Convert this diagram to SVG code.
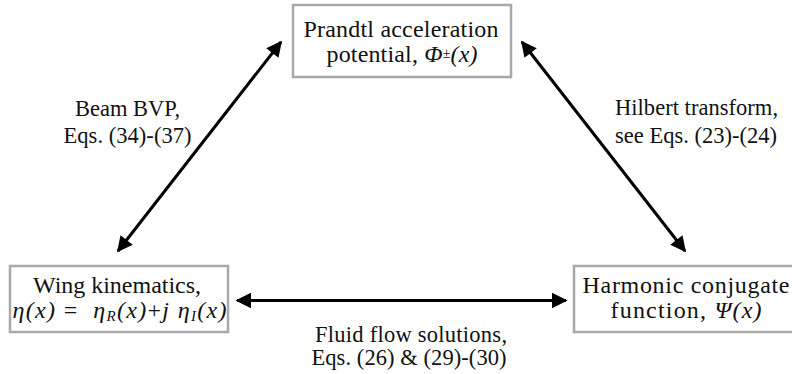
<svg xmlns="http://www.w3.org/2000/svg" width="792" height="374" viewBox="0 0 792 374">
  <defs>
    <style>
      .box { fill: #ffffff; stroke: #a9a9a9; stroke-width: 2.5; }
      .t { font-size: 24px; fill: #111; text-anchor: middle; }
      .lbl { font-size: 22.5px; fill: #111; text-anchor: middle; }
      .i { font-style: italic; }
      .sub { font-size: 15px; font-style: italic; }
      .link { stroke: #000; stroke-width: 3; fill: none; marker-start: url(#head); marker-end: url(#head); }
    </style>
    <marker id="head" viewBox="0 0 10 10" refX="9" refY="5" markerWidth="5.4" markerHeight="5.2" orient="auto-start-reverse" markerUnits="strokeWidth">
      <path d="M0,0 L10,5 L0,10 Z" fill="#000"/>
    </marker>
  </defs>

  <g id="connectors">
    <!-- Beam BVP: wing kinematics <-> acceleration potential -->
    <line class="link" x1="118" y1="251" x2="281" y2="42"/>
    <!-- Hilbert transform: acceleration potential <-> harmonic conjugate -->
    <line class="link" x1="522" y1="42" x2="685" y2="251"/>
    <!-- Fluid flow solutions: wing kinematics <-> harmonic conjugate -->
    <line class="link" x1="237" y1="300.5" x2="566" y2="300.5"/>
  </g>

  <g font-family="Liberation Serif, DejaVu Serif, serif">
    <g id="potential">
      <rect class="box" x="293" y="5" width="218" height="72"/>
      <text class="t" x="401" y="37" textLength="195" lengthAdjust="spacing">Prandtl acceleration</text>
      <text class="t" x="402" y="62" textLength="151" lengthAdjust="spacing">potential, <tspan class="i">Φ</tspan><tspan font-size="14" dy="-4">±</tspan><tspan class="i" dy="4">(x)</tspan></text>
    </g>

    <g id="kinematics">
      <rect class="box" x="10" y="266" width="218" height="66"/>
      <text class="t" x="117" y="293" textLength="168" lengthAdjust="spacing">Wing kinematics,</text>
      <text class="t" x="119.5" y="318" textLength="214" lengthAdjust="spacing" xml:space="preserve"><tspan class="i">η(x)</tspan> =  <tspan class="i">η</tspan><tspan class="sub" dy="3">R</tspan><tspan class="i" dy="-3">(x)</tspan>+<tspan class="i">j η</tspan><tspan class="sub" dy="3">I</tspan><tspan class="i" dy="-3">(x)</tspan></text>
    </g>

    <g id="conjugate">
      <rect class="box" x="574" y="266" width="222" height="66"/>
      <text class="t" x="686" y="293" textLength="207" lengthAdjust="spacing">Harmonic conjugate</text>
      <text class="t" x="686" y="318" textLength="151" lengthAdjust="spacing">function, <tspan class="i">Ψ(x)</tspan></text>
    </g>

    <g id="labels">
      <text class="lbl" x="127.5" y="115.5" textLength="105" lengthAdjust="spacing">Beam BVP,</text>
      <text class="lbl" x="127.5" y="142.5" textLength="128" lengthAdjust="spacing">Eqs. (34)-(37)</text>
      <text class="lbl" x="696.5" y="115" textLength="163" lengthAdjust="spacing">Hilbert transform,</text>
      <text class="lbl" x="696" y="143" textLength="162" lengthAdjust="spacing">see Eqs. (23)-(24)</text>
      <text class="lbl" x="411" y="341.5" textLength="192" lengthAdjust="spacing">Fluid flow solutions,</text>
      <text class="lbl" x="409" y="365" textLength="195" lengthAdjust="spacing">Eqs. (26) &amp; (29)-(30)</text>
    </g>
  </g>
</svg>
